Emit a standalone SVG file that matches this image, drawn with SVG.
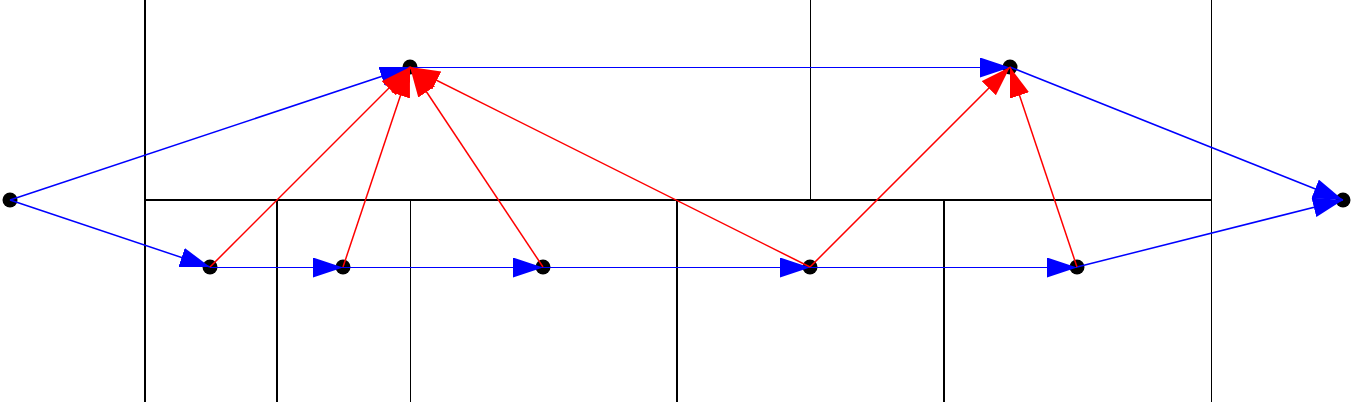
<svg xmlns="http://www.w3.org/2000/svg" width="1355" height="402" viewBox="0 0 1355 402">
<style>
.g1{stroke:#000;stroke-width:1;fill:none}
.g2{stroke:#000;stroke-width:2;fill:none}
.b{stroke:#0000ff;stroke-width:1.5;fill:none;marker-end:url(#ab)}
.h{stroke:#0000ff;stroke-width:1;fill:none;marker-end:url(#ab)}
.r{stroke:#ff0000;stroke-width:1.5;fill:none;marker-end:url(#ar)}
.n{fill:#000}
</style>
<defs>
<marker id="ab" markerUnits="userSpaceOnUse" markerWidth="31" markerHeight="21" refX="30" refY="10" orient="auto" viewBox="0 0 31 21"><path d="M0,0 L30,10 L0,20 Z" fill="#0000ff"/></marker>
<marker id="ar" markerUnits="userSpaceOnUse" markerWidth="31" markerHeight="21" refX="30" refY="10" orient="auto" viewBox="0 0 31 21"><path d="M0,0 L30,10 L0,20 Z" fill="#ff0000"/></marker>
</defs>
<g id="grid">
<line class="g2" x1="145" y1="0" x2="145" y2="402"/>
<line class="g1" x1="1211.5" y1="0" x2="1211.5" y2="402"/>
<line class="g2" x1="145" y1="200" x2="1211" y2="200"/>
<line class="g1" x1="810.5" y1="0" x2="810.5" y2="200"/>
<line class="g2" x1="277" y1="200" x2="277" y2="402"/>
<line class="g1" x1="410.5" y1="200" x2="410.5" y2="402"/>
<line class="g2" x1="677" y1="200" x2="677" y2="402"/>
<line class="g2" x1="944" y1="200" x2="944" y2="402"/>
</g>
<g id="n0"><circle class="n" cx="10" cy="200" r="7.5"/></g>
<g id="n1"><circle class="n" cx="410" cy="67" r="7.5"/></g>
<g id="n2"><circle class="n" cx="1010" cy="67" r="7.5"/></g>
<g id="n3"><circle class="n" cx="210" cy="267" r="7.5"/></g>
<g id="n4"><circle class="n" cx="343" cy="267" r="7.5"/></g>
<g id="n5"><circle class="n" cx="543" cy="267" r="7.5"/></g>
<g id="n6"><circle class="n" cx="810" cy="267" r="7.5"/></g>
<g id="n7"><circle class="n" cx="1077" cy="267" r="7.5"/></g>
<g id="n8"><circle class="n" cx="1343" cy="200" r="7.5"/></g>
<g id="connectors">
<line class="b" x1="10" y1="200" x2="410" y2="67"/>
<line class="b" x1="10" y1="200" x2="210" y2="267"/>
<line class="h" x1="210" y1="267.5" x2="343" y2="267.5"/>
<line class="h" x1="343" y1="267.5" x2="543" y2="267.5"/>
<line class="h" x1="543" y1="267.5" x2="810" y2="267.5"/>
<line class="h" x1="810" y1="267.5" x2="1077" y2="267.5"/>
<line class="h" x1="410" y1="67.5" x2="1010" y2="67.5"/>
<line class="b" x1="1010" y1="67" x2="1343" y2="200"/>
<line class="b" x1="1077" y1="267" x2="1343" y2="200"/>
<line class="r" x1="210" y1="267" x2="410" y2="67"/>
<line class="r" x1="343" y1="267" x2="410" y2="67"/>
<line class="r" x1="543" y1="267" x2="410" y2="67"/>
<line class="r" x1="810" y1="267" x2="410" y2="67"/>
<line class="r" x1="810" y1="267" x2="1010" y2="67"/>
<line class="r" x1="1077" y1="267" x2="1010" y2="67"/>
</g>
</svg>
